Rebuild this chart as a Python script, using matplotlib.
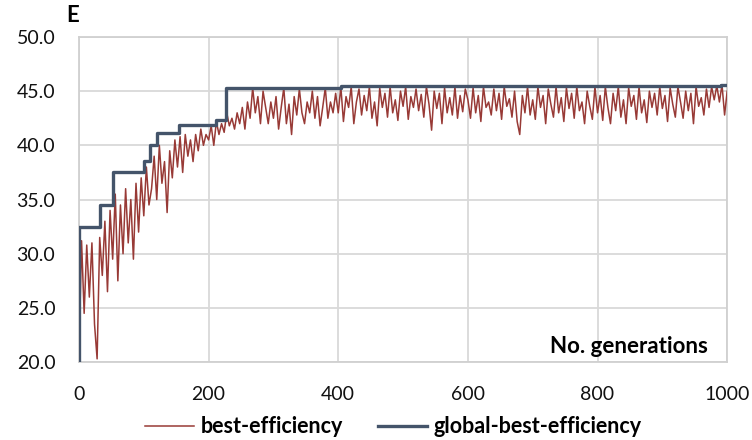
import numpy as np
import matplotlib
matplotlib.use("Agg")
import matplotlib.pyplot as plt

plt.rcParams['font.family'] = ['Lato', 'DejaVu Sans']

# best-efficiency, lu cada 4 generaciones (0..1000)
best_0 = [20.5, 31.2, 24.5, 30.8, 26.0, 31.0, 23.5, 20.3, 31.5, 28.0, 33.0, 26.5, 34.0,
          29.5, 35.5, 27.5, 34.5, 30.0, 36.0, 31.0, 35.0, 29.5, 36.5, 32.0, 37.0]
best_100 = [33.5, 38.0, 34.5, 36.0, 39.0, 35.0, 40.0, 36.5, 38.5, 33.8, 39.5, 37.0, 40.5,
            38.0, 40.8, 37.5, 41.0, 39.0, 40.5, 38.5, 41.0, 39.5, 41.5, 40.0, 41.0]
best_200 = [40.5, 41.8, 40.0, 42.2, 41.0, 42.0, 41.2, 43.0, 41.8, 42.5, 41.5, 43.0, 42.0,
            43.5, 41.5, 44.0, 42.5, 45.3, 43.0, 44.5, 42.0, 45.0, 43.5, 42.0, 44.0]
best_300 = [42.5, 44.5, 41.5, 43.5, 45.3, 42.0, 43.8, 41.0, 44.5, 42.8, 45.2, 43.0, 42.0,
            44.0, 43.0, 45.0, 42.5, 44.5, 41.8, 43.5, 45.3, 42.5, 44.0, 43.0, 44.8]
best_400 = [43.0, 45.4, 42.2, 44.5, 43.5, 45.4, 42.0, 44.0, 45.2, 42.8, 44.6, 43.2, 45.4,
            42.5, 44.0, 41.8, 45.3, 43.5, 44.8, 42.6, 45.4, 43.0, 44.2, 42.3, 45.0]
best_500 = [43.6, 45.4, 42.4, 44.5, 43.5, 45.2, 43.2, 44.7, 42.6, 45.4, 43.8, 41.4, 45.0,
            43.4, 44.8, 42.0, 45.3, 43.0, 44.4, 42.8, 45.4, 42.5, 44.6, 43.1, 45.2]
best_600 = [44.2, 42.5, 45.3, 43.0, 44.6, 42.2, 45.4, 43.5, 44.0, 42.8, 45.2, 43.2, 44.8,
            42.4, 45.4, 43.6, 44.3, 42.6, 45.0, 42.2, 41.0, 44.6, 43.0, 45.4, 42.8]
best_700 = [44.2, 42.4, 45.4, 43.5, 44.6, 42.0, 45.2, 43.8, 42.6, 45.4, 43.0, 44.4, 42.2,
            45.3, 43.4, 44.8, 42.5, 45.4, 43.2, 44.0, 42.0, 45.0, 43.6, 42.4, 45.4]
best_800 = [43.0, 44.6, 42.3, 45.4, 43.5, 42.0, 44.8, 43.2, 45.4, 42.6, 44.2, 42.0, 45.3,
            43.6, 44.6, 42.4, 45.4, 43.0, 44.2, 42.1, 45.0, 43.5, 44.8, 42.8, 45.4]
best_900 = [43.4, 44.6, 42.2, 45.3, 43.8, 42.6, 45.4, 44.0, 42.5, 45.0, 43.2, 44.8, 42.0,
            45.4, 43.6, 44.4, 42.8, 45.2, 43.5, 45.4, 44.2, 45.5, 44.0, 45.6, 42.8, 45.0]
best = best_0 + best_100 + best_200 + best_300 + best_400 + best_500 + \
    best_600 + best_700 + best_800 + best_900
gens = np.arange(len(best)) * 4

# global-best-efficiency (escalones)
gb_gen = [0, 0.5, 32, 52, 100, 110, 121, 154, 212, 227, 405, 990, 1000]
gb_val = [20.0, 32.5, 34.5, 37.5, 38.6, 40.0, 41.1, 41.9, 42.3, 45.3, 45.5, 45.6, 45.6]

fig = plt.figure(figsize=(7.52, 4.40), dpi=100)
ax = fig.add_axes([0.105, 0.177, 0.862, 0.739])

ax.plot(gens, best, color='#983a36', lw=1.1, label='best-efficiency', zorder=3)
ax.plot(gb_gen, gb_val, color='#44546a', lw=2.4, drawstyle='steps-post',
        label='global-best-efficiency', zorder=4)

ax.set_xlim(0, 1000)
ax.set_ylim(20, 50)
ax.set_xticks([0, 200, 400, 600, 800, 1000])
ax.set_yticks([20, 25, 30, 35, 40, 45, 50])
ax.set_yticklabels(['%.1f' % v for v in ax.get_yticks()])
ax.grid(True, color='#d9d9d9', lw=1.3)
ax.set_axisbelow(True)
for s in ax.spines.values():
    s.set_color('#d0d0d0')
    s.set_linewidth(1.3)
ax.tick_params(length=0, labelsize=14, colors='#111111')
ax.tick_params(axis='y', pad=17)
ax.tick_params(axis='x', pad=17)

fig.text(0.088, 0.94, 'E', fontsize=16, fontweight='bold', ha='left', va='bottom')
ax.text(0.97, 0.015, 'No. generations', transform=ax.transAxes, fontsize=16,
        fontweight='bold', ha='right', va='bottom')

fig.legend(loc='center', bbox_to_anchor=(0.523, 0.03), ncol=2, frameon=False,
           prop={'weight': 'bold', 'size': 15.5}, handlelength=2.3, columnspacing=1.6,
           handletextpad=0.3)

fig.savefig('out.png', dpi=100)
